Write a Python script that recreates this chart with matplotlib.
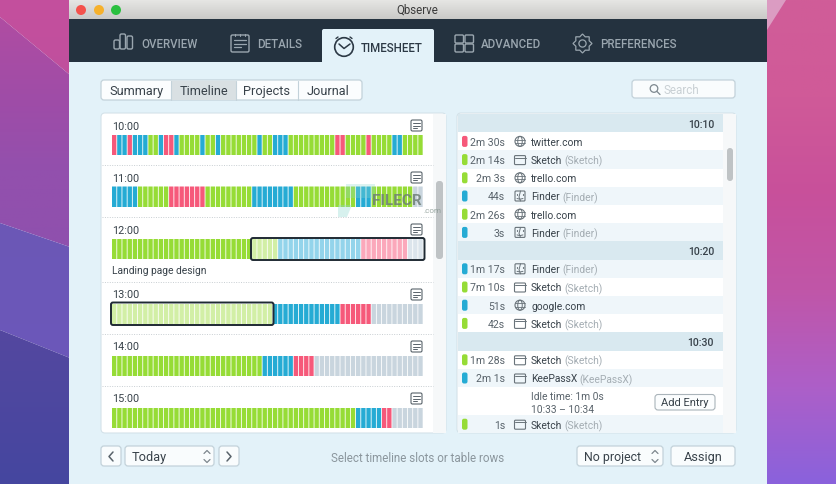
import numpy as np
import matplotlib
matplotlib.use('Agg')
import matplotlib.pyplot as plt
from matplotlib.colors import LinearSegmentedColormap
from matplotlib.patches import FancyBboxPatch, Rectangle, Circle, Polygon

plt.rcParams['font.family'] = ['Roboto', 'DejaVu Sans']

W, H = 836, 484

# one letter per slot: g/b/r/n active, capitals are the selected (faded) slots
hour_labels = ['10:00', '11:00', '12:00', '13:00', '14:00', '15:00']
slots_10 = 'rbbrbbbggbrrbggggbggbgggggggbggbbbgggggggggrrggggrggggbbgggg'
slots_11 = 'bbbbbggggggrrrrrrrgggggggggbbbbbbbbggggggggggggbbbggggggggnn'
slots_12 = 'g' * 27 + 'G' * 5 + 'B' * 16 + 'R' * 9 + 'N' * 3
slots_13 = 'G' * 31 + 'b' * 13 + 'r' * 6 + 'n' * 10
slots_14 = 'g' * 29 + 'b' * 6 + 'r' * 4 + 'n' * 21
slots_15 = 'g' * 47 + 'b' * 5 + 'r' * 2 + 'n' * 6
hour_slots = [slots_10, slots_11, slots_12, slots_13, slots_14, slots_15]
slot_colors = {'g': '#96dc36', 'b': '#25abd4', 'r': '#f6597a', 'n': '#c9d5de',
               'G': '#d2efa6', 'B': '#93d4eb', 'R': '#fba8bb', 'N': '#dce5ec'}

# right hand table
row_kind = ['h', 'r', 'r', 'r', 'r', 'r', 'r', 'h', 'r', 'r', 'r', 'r', 'h', 'r', 'r', 'i', 'r']
row_time = ['10:10', '2m 30s', '2m 14s', '2m 3s', '44s', '2m 26s', '3s', '10:20', '1m 17s', '7m 10s',
            '51s', '42s', '10:30', '1m 28s', '2m 1s', '', '1s']
row_name = ['', 'twitter.com', 'Sketch', 'trello.com', 'Finder', 'trello.com', 'Finder', '', 'Finder', 'Sketch',
            'google.com', 'Sketch', '', 'Sketch', 'KeePassX', '', 'Sketch']
row_app = ['', '', '(Sketch)', '', '(Finder)', '', '(Finder)', '', '(Finder)', '(Sketch)',
           '', '(Sketch)', '', '(Sketch)', '(KeePassX)', '', '(Sketch)']
row_color = ['', 'r', 'g', 'g', 'b', 'g', 'b', '', 'b', 'g', 'b', 'g', '', 'g', 'b', '', 'g']

TEXT = '#38424a'
GREY = '#a4adb3'
EDGE = '#c3d2da'
BODY = '#e3f2f9'


def box(ax, x0, y0, x1, y1, fc, ec='none', lw=0.8, r=3, z=2):
    p = FancyBboxPatch((x0 + r, y0 + r), x1 - x0 - 2 * r, y1 - y0 - 2 * r, boxstyle='round,pad=%f,rounding_size=%f' % (r, r),
                       fc=fc, ec=ec, lw=lw, zorder=z)
    ax.add_patch(p)
    return p


def gradient(ax, x0, x1, y0, y1, stops, clip=None, z=1):
    cmap = LinearSegmentedColormap.from_list('g', stops)
    im = ax.imshow(np.linspace(0, 1, 256).reshape(-1, 1), extent=(x0, x1, y1, y0), cmap=cmap, aspect='auto', zorder=z)
    if clip is not None:
        poly = Polygon(clip, closed=True, transform=ax.transData, fc='none', ec='none')
        ax.add_patch(poly)
        im.set_clip_path(poly)


def line(ax, xs, ys, c, lw=1.0, z=4):
    ax.plot(xs, ys, color=c, lw=lw, zorder=z, solid_capstyle='round')


def icon_note(ax, x, y):
    c = '#59636b'
    ax.add_patch(FancyBboxPatch((x - 4.5, y - 4.5), 9, 9, boxstyle='round,pad=1,rounding_size=1.5', fc='none', ec=c, lw=0.8, zorder=6))
    for dy, w in [(-2.5, 7), (0, 7), (2.5, 4)]:
        line(ax, [x - 3.5, x - 3.5 + w], [y + dy, y + dy], c, 0.7, 6)


def icon_globe(ax, x, y, c='#69737a'):
    ax.add_patch(Circle((x, y), 5, fc='none', ec=c, lw=0.8, zorder=4))
    ax.add_patch(matplotlib.patches.Ellipse((x, y), 4.5, 10, fc='none', ec=c, lw=0.7, zorder=4))
    line(ax, [x - 5, x + 5], [y - 1.7, y - 1.7], c, 0.6)
    line(ax, [x - 5, x + 5], [y + 1.7, y + 1.7], c, 0.6)


def icon_window(ax, x, y, c='#69737a'):
    ax.add_patch(FancyBboxPatch((x - 4.5, y - 3), 9, 7, boxstyle='round,pad=1,rounding_size=1', fc='none', ec=c, lw=0.8, zorder=4))
    line(ax, [x - 5.5, x + 5.5], [y - 2, y - 2], c, 0.7)


def icon_finder(ax, x, y, c='#69737a'):
    ax.add_patch(FancyBboxPatch((x - 4, y - 4), 8, 8, boxstyle='round,pad=1,rounding_size=1', fc='none', ec=c, lw=0.8, zorder=4))
    line(ax, [x + 0.5, x - 1, x + 0.5], [y - 5, y + 1, y + 5], c, 0.7)
    line(ax, [x - 3, x - 3], [y - 2, y - 1], c, 0.8)
    line(ax, [x + 3, x + 3], [y - 2, y - 1], c, 0.8)
    line(ax, [x - 3, x, x + 3], [y + 2.5, y + 3.2, y + 2.5], c, 0.7)


def chevrons(ax, x, y, c='#7d878e'):
    line(ax, [x - 3, x, x + 3], [y - 3, y - 6, y - 3], c, 0.9, 5)
    line(ax, [x - 3, x, x + 3], [y + 3, y + 6, y + 3], c, 0.9, 5)


fig = plt.figure(figsize=(W / 100, H / 100), dpi=100)
ax = fig.add_axes([0, 0, 1, 1], zorder=1)
ax.set_xlim(0, W)
ax.set_ylim(H, 0)
ax.axis('off')

# wallpaper
gradient(ax, 0, 70, 0, 75, ['#c4509d', '#c04f9e'], [(0, 0), (70, 0), (70, 75), (0, 17)])
gradient(ax, 0, 70, 17, 247, ['#b04da2', '#a04ca7', '#9350ad', '#8f50ae'], [(0, 17), (70, 75), (70, 247), (0, 223)])
gradient(ax, 0, 70, 223, 358, ['#6c58b6', '#6b57ba'], [(0, 223), (70, 247), (70, 358), (0, 330)])
gradient(ax, 0, 70, 330, 484, ['#54489f', '#4546a0'], [(0, 330), (70, 358), (70, 484), (0, 484)])
gradient(ax, 767, 836, 0, 484, ['#d05d98', '#d05a98', '#c8509b', '#c056a8', '#ad5fc8', '#8a62dc'])
ax.add_patch(Polygon([(767, 0), (786, 0), (767, 30)], fc='#db9cc2', ec='none', zorder=2))

# window
ax.add_patch(Rectangle((69, 62), 698, H - 62, fc=BODY, ec='none', zorder=2))
gradient(ax, 69, 767, 0, 19, ['#e6e6e4', '#c9c9c7'], z=2)
ax.add_patch(Rectangle((69, 19), 698, 43, fc='#24323f', ec='none', zorder=2))
for cx, c in zip([81, 99, 116], ['#f4524c', '#f6b12c', '#2ac03f']):
    ax.add_patch(Circle((cx, 10), 5, fc=c, ec='none', zorder=3))
ax.text(417, 10.5, 'Qbserve', ha='center', va='center', fontsize=8.3, color='#3b3b3b', zorder=3)
box(ax, 322, 29, 434, 66, BODY, r=2, z=3)
ax.add_patch(Rectangle((322, 50), 112, 14, fc=BODY, ec='none', zorder=3))

# nav tabs
nav = '#9aa6af'
for x, y, s, c in [(141, 44.5, 'OVERVIEW', nav), (257, 44.5, 'DETAILS', nav), (361, 48, 'TIMESHEET', '#2c3945'),
                   (481, 44.5, 'ADVANCED', nav), (600, 44.5, 'PREFERENCES', nav)]:
    ax.text(x, y, s, ha='left', va='center', fontsize=8.3, color=c, fontweight='medium', zorder=5)
for x0, y0, h in [(114, 40, 9), (120, 34, 15), (127, 36, 13)]:
    box(ax, x0, y0, x0 + 5.5, y0 + h, 'none', nav, 1.0, r=1.5, z=4)
box(ax, 231, 35, 249, 52, 'none', nav, 1.0, r=1.5, z=4)
for dy in [40, 43.5, 47]:
    line(ax, [234, 246 if dy < 47 else 241], [dy, dy], nav, 0.9)
for tx in [235, 240, 245]:
    line(ax, [tx, tx], [33.5, 36], nav, 0.8)
ax.add_patch(Circle((344, 47), 9.3, fc='none', ec='#2c3945', lw=1.2, zorder=5))
line(ax, [339, 344, 350], [44, 48.5, 44], '#2c3945', 1.1, 5)
line(ax, [338, 336], [37, 38.5], '#2c3945', 1.0, 5)
line(ax, [350, 352], [37, 38.5], '#2c3945', 1.0, 5)
for gx, gy in [(455, 35), (465, 35), (455, 44), (465, 44)]:
    box(ax, gx, gy, gx + 8.5, gy + 8, 'none', nav, 1.0, r=1.2, z=4)
gear = [(582.5 + (9.5 if k % 2 == 0 else 7.2) * np.cos(k * np.pi / 8), 43.5 + (9.5 if k % 2 == 0 else 7.2) * np.sin(k * np.pi / 8)) for k in range(16)]
ax.add_patch(Polygon(gear, closed=True, fc='none', ec=nav, lw=0.9, zorder=4))
ax.add_patch(Circle((582.5, 43.5), 3.6, fc='none', ec=nav, lw=0.9, zorder=4))

# segmented control and search
box(ax, 101, 80, 362, 100, '#fbfdfe', EDGE, 0.9, r=3)
ax.add_patch(Rectangle((171, 80.5), 65, 19, fc='#d9e0e3', ec='none', zorder=3))
for x in [171, 236, 298]:
    line(ax, [x, x], [80.5, 99.5], EDGE, 0.8)
for x, s in [(136, 'Summary'), (203.5, 'Timeline'), (267, 'Projects'), (328, 'Journal')]:
    ax.text(x, 90, s, ha='center', va='center_baseline', fontsize=9.2, color=TEXT, zorder=5)
box(ax, 632, 80, 735, 98, '#f9fcfd', EDGE, 0.9, r=3)
ax.add_patch(Circle((654, 88.5), 3.8, fc='none', ec='#7e888f', lw=0.9, zorder=4))
line(ax, [657, 660], [91.5, 94.5], '#7e888f', 0.9)
ax.text(664, 89.5, 'Search', ha='left', va='center_baseline', fontsize=8.4, color='#c9d0d4', zorder=5)

# left panel
box(ax, 101, 113, 446, 433, '#ffffff', '#d4e2e9', 0.8, r=4)
ax.add_patch(Rectangle((433, 114), 12.5, 318.5, fc='#f6f8f9', ec='none', zorder=3))
box(ax, 436, 181, 443, 259, '#bfc3c5', r=3, z=4)
for y in [165, 217, 282, 334, 386]:
    ax.plot([102, 433], [y, y], color='#c8ced2', lw=0.7, ls=(0, (1, 1.5)), zorder=4)

label_y = [125.5, 177.5, 229.5, 294.5, 346.5, 398.5]
bar_top = [134.5, 186.5, 238.5, 303.5, 355.5, 407.5]
for lab, ly in zip(hour_labels, label_y):
    ax.text(112, ly, lab, ha='left', va='center_baseline', fontsize=7.8, color=TEXT, zorder=5)
    icon_note(ax, 416.5, ly)
ax.text(112, 269.5, 'Landing page design', ha='left', va='center_baseline', fontsize=7.4, color=TEXT, zorder=5)

# timeline bars, one small axes per hour with the slot index as x
for slots, top in zip(hour_slots, bar_top):
    tl = fig.add_axes([112 / W, 1 - (top + 20.5) / H, 311.5 / W, 20.5 / H], zorder=2)
    tl.patch.set_alpha(0)
    tl.set_xlim(0, len(slots))
    tl.set_ylim(0, 1)
    tl.axis('off')
    bars = tl.bar(np.arange(len(slots)), np.ones(len(slots)), width=0.84, align='edge', color=[slot_colors[s] for s in slots], lw=0)
    for b in bars:
        b.set_snap(False)

# top layer for things drawn over the bars
over = fig.add_axes([0, 0, 1, 1], zorder=3)
over.set_xlim(0, W)
over.set_ylim(H, 0)
over.axis('off')
over.patch.set_alpha(0)
box(over, 251, 238, 424.5, 260, 'none', '#1f2a33', 1.4, r=2, z=6)
box(over, 111, 302.5, 273.5, 325, 'none', '#1f2a33', 1.4, r=2, z=6)
over.add_patch(Polygon([(338, 205), (352, 205), (347, 217), (338, 217)], fc='#8fd8cf', ec='none', alpha=0.35, zorder=5))
over.add_patch(Rectangle((346, 184), 29, 14, fc='#8fd8cf', ec='none', alpha=0.3, zorder=5))
over.text(372, 199.5, 'FILECR', ha='left', va='center_baseline', fontsize=11, fontweight='bold', color='#6f7f78', alpha=0.85, zorder=6)
over.text(423, 210.5, '.com', ha='left', va='center_baseline', fontsize=5.8, color='#8a9a94', alpha=0.85, zorder=6)

# right panel
box(ax, 457, 113, 736, 433, '#ffffff', '#d4e2e9', 0.8, r=4)
ax.add_patch(Rectangle((723, 114), 12.5, 318.5, fc='#f6f8f9', ec='none', zorder=3))
box(ax, 727, 148, 733, 181, '#bfc3c5', r=3, z=4)

fig.canvas.draw()
rend = fig.canvas.get_renderer()
y = 114.0
tint = False
for kind, t, name, app, col in zip(row_kind, row_time, row_name, row_app, row_color):
    if kind == 'h':
        ax.add_patch(Rectangle((457.5, y), 265.5, 18.2, fc='#d9e9f0', ec='none', zorder=3))
        ax.text(714, y + 9.7, t, ha='right', va='center_baseline', fontsize=7.6, color=TEXT, fontweight='medium', zorder=5)
        y += 18.2
        tint = t == '10:20'
        continue
    if kind == 'i':
        ax.text(531, y + 9.5, 'Idle time: 1m 0s', ha='left', va='center_baseline', fontsize=7.4, color='#59636b', zorder=5)
        ax.text(531, y + 22.5, '10:33 \u2013 10:34', ha='left', va='center_baseline', fontsize=7.4, color='#59636b', zorder=5)
        box(ax, 655, y + 7.5, 715, y + 23, '#fbfdfe', '#aab4ba', 0.8, r=3, z=4)
        ax.text(685, y + 15.5, 'Add Entry', ha='center', va='center_baseline', fontsize=8, color=TEXT, zorder=5)
        y += 28
        tint = True
        continue
    if tint:
        ax.add_patch(Rectangle((457.5, y), 265.5, 18.2, fc='#eff6fa', ec='none', zorder=3))
    cy = y + 9.2
    box(ax, 462, cy - 5.5, 467.5, cy + 5.5, slot_colors[col], r=2, z=4)
    ax.text(505, cy + 0.5, t, ha='right', va='center_baseline', fontsize=7.6, color='#59636b', zorder=5)
    if '.com' in name:
        icon_globe(ax, 520, cy)
    elif name == 'Finder':
        icon_finder(ax, 520, cy)
    else:
        icon_window(ax, 520, cy)
    nt = ax.text(531, cy + 0.5, name, ha='left', va='center_baseline', fontsize=7.4, color=TEXT, zorder=5)
    if app:
        # app name in grey right after the title
        ext = nt.get_window_extent(rend)
        ax.text(ext.x1 + 2.5, cy + 0.5, app, ha='left', va='center_baseline', fontsize=7.4, color=GREY, zorder=5)
    y += 18.2
    tint = not tint

# bottom controls
box(ax, 101, 446, 121, 466, '#f9fcfd', EDGE, 0.9, r=3)
line(ax, [113, 109, 113], [452, 456.5, 461], '#59636b', 1.1)
box(ax, 125, 446, 214, 466, '#f9fcfd', EDGE, 0.9, r=3)
ax.text(132, 456.5, 'Today', ha='left', va='center_baseline', fontsize=9.2, color=TEXT, zorder=5)
chevrons(ax, 207, 456.5)
box(ax, 219, 446, 239, 466, '#f9fcfd', EDGE, 0.9, r=3)
line(ax, [227, 231, 227], [452, 456.5, 461], '#59636b', 1.1)
ax.text(418, 457, 'Select timeline slots or table rows', ha='center', va='center_baseline', fontsize=8.4, color='#8b969d', zorder=5)
box(ax, 577, 446, 663, 466, '#f9fcfd', EDGE, 0.9, r=3)
ax.text(584, 456.5, 'No project', ha='left', va='center_baseline', fontsize=8.9, color=TEXT, zorder=5)
chevrons(ax, 655, 456.5)
box(ax, 671, 446, 735, 466, '#f9fcfd', EDGE, 0.9, r=3)
ax.text(703, 456.5, 'Assign', ha='center', va='center_baseline', fontsize=9.2, color=TEXT, zorder=5)

ax.set_xlim(0, W)
ax.set_ylim(H, 0)
fig.savefig('out.png', dpi=100)
